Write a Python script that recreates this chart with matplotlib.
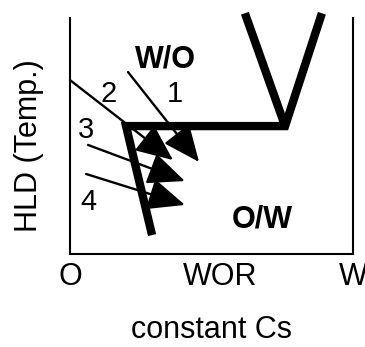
import matplotlib
matplotlib.use("Agg")
import matplotlib.pyplot as plt

plt.rcParams['font.family'] = ['Liberation Sans', 'DejaVu Sans']

# phase boundary (thick line), axes fraction units
boundary_x = [0.29, 0.198, 0.76, 0.89]
boundary_y = [0.08, 0.542, 0.542, 1.02]
v_left_x = [0.618, 0.76]
v_left_y = [1.02, 0.542]

# formulation paths: (start, tip)
arrow_starts = [(0.205, 0.771), (0.0, 0.737), (0.064, 0.462), (0.057, 0.339)]
arrow_tips = [(0.456, 0.390), (0.364, 0.398), (0.406, 0.309), (0.406, 0.208)]
path_labels = ["1", "2", "3", "4"]
label_pos = [(0.371, 0.644), (0.136, 0.644), (0.058, 0.492), (0.064, 0.186)]

tick_pos = [0.0, 0.53, 1.0]
tick_labels = ["O", "WOR", "W"]

fig = plt.figure(figsize=(3.65, 3.47), dpi=100)
ax = fig.add_axes([70 / 365, (347 - 254) / 347, 283 / 365, 236 / 347])
ax.set_xlim(0, 1)
ax.set_ylim(0, 1)

ax.plot(boundary_x, boundary_y, color="black", lw=6, clip_on=False,
        solid_joinstyle="miter", solid_capstyle="butt")
ax.plot(v_left_x, v_left_y, color="black", lw=6, clip_on=False,
        solid_capstyle="butt")

for (x0, y0), (x1, y1) in zip(arrow_starts, arrow_tips):
    ax.annotate("", xy=(x1, y1), xytext=(x0, y0),
                arrowprops=dict(arrowstyle="-|>,head_length=1.15,head_width=0.5",
                                lw=1.7, color="black", shrinkA=0, shrinkB=0,
                                mutation_scale=20))

for lab, (x, y) in zip(path_labels, label_pos):
    ax.text(x, y, lab, fontsize=21, ha="center", va="baseline")

ax.text(0.336, 0.792, "W/O", fontsize=22, fontweight="bold", ha="center", va="baseline")
ax.text(0.678, 0.114, "O/W", fontsize=22, fontweight="bold", ha="center", va="baseline")

ax.set_xticks(tick_pos)
ax.set_xticklabels(tick_labels, fontsize=22)
ax.set_yticks([])
ax.tick_params(axis="x", length=0, pad=6)

for side in ["left", "right", "bottom"]:
    ax.spines[side].set_linewidth(1.5)
ax.spines["top"].set_visible(False)

ax.set_xlabel("constant Cs", fontsize=22)
ax.xaxis.set_label_coords(0.5, -0.322)
ax.xaxis.label.set_va("center")
ax.set_ylabel("HLD (Temp.)", fontsize=22)
ax.yaxis.set_label_coords(-0.145, 0.458)
ax.yaxis.label.set_va("center")

fig.savefig("out.png", dpi=100)
